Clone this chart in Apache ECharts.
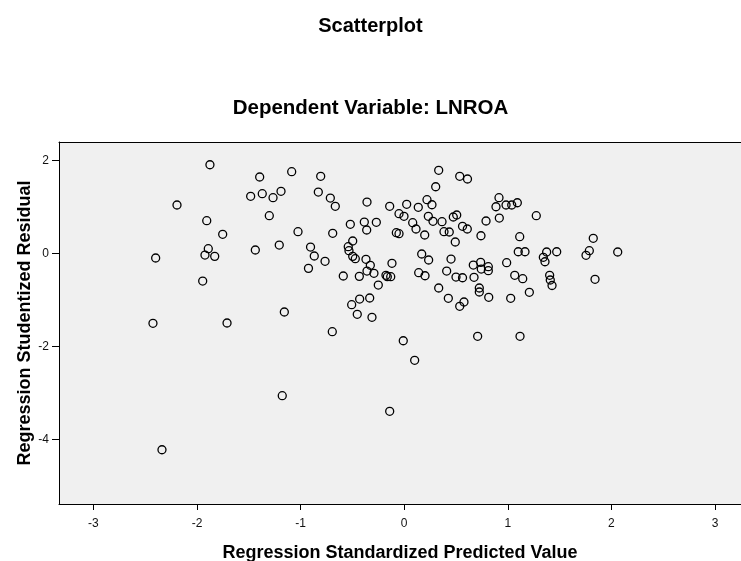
<!DOCTYPE html>
<html>
<head>
<meta charset="utf-8">
<script src="https://cdn.jsdelivr.net/npm/echarts@6/dist/echarts.min.js"></script>
<style>
  html, body { margin: 0; padding: 0; background: #ffffff; }
  #chart { width: 741px; height: 561px; }
</style>
</head>
<body>
<div id="chart"></div>
<script>
// Regression Standardized Predicted Value (x) for each case
const predicted = [
  -1.875, -1.395, -1.086, -2.193, -1.482, -1.370, -1.266, -1.189, -1.906, -1.302,
  -1.752, -1.025, -2.399, -1.891, -1.923, -1.829, -1.437, -1.206, -1.945, -0.904,
  -0.924, -0.806, 0.333, 0.536, 0.611, -0.829, -0.713, -0.665, -0.359, 0.304,
  -0.140, 0.024, 0.136, 0.220, 0.268, -0.050, -0.002, 0.233, 0.278, 0.365,
  0.474, 0.507, -0.520, -0.385, -0.269, -0.362, 0.082, 0.114, 0.198, -0.076,
  -0.050, 0.384, 0.435, 0.563, 0.609, 0.493, -0.690, -0.868, -0.764, -0.497,
  -0.540, -0.533, -0.497, -0.472, -0.369, -0.327, -0.359, -0.292, -0.118, -0.588,
  -0.433, -0.176, -0.163, -0.130, -0.250, 0.169, 0.236, 0.452, 0.140, 0.201,
  0.410, 0.500, 0.563, 0.333, 0.915, 0.886, 0.983, 1.038, 1.092, 1.275,
  0.790, 0.918, 0.741, 1.115, 1.825, 1.101, 1.166, 1.375, 1.472, 1.343,
  1.359, 1.787, 1.755, 2.061, 0.989, 0.667, 0.738, 0.812, 0.812, 0.744,
  0.674, 1.067, 1.144, 1.404, 1.410, 1.427, 1.842, 0.725, 0.725, 0.816,
  1.028, 1.208, 0.709, 1.118, -0.430, -0.333, -0.507, -0.453, -0.311, -0.694,
  0.426, 0.577, 0.536, -0.009, 0.101, -0.140, -1.157, -2.425, -1.710, -1.177,
  -2.338
];
// Regression Studentized Residual (y) for each case
const residual = [
  1.905, 1.641, 1.755, 1.039, 1.226, 1.282, 1.196, 1.333, 0.701, 0.809,
  0.409, 0.465, -0.101, 0.099, -0.037, -0.065, 0.071, 0.178, -0.596, 0.135,
  -0.323, 1.656, 1.785, 1.656, 1.598, 1.318, 1.189, 1.011, 1.103, 1.432,
  1.011, 1.054, 0.989, 1.153, 1.045, 0.852, 0.796, 0.796, 0.688, 0.680,
  0.781, 0.824, 0.624, 0.673, 0.667, 0.501, 0.658, 0.523, 0.394, 0.443,
  0.422, 0.465, 0.458, 0.581, 0.523, 0.243, 0.430, -0.058, -0.172, 0.265,
  0.142, 0.056, -0.065, -0.116, -0.129, -0.258, -0.381, -0.430, -0.215, -0.488,
  -0.495, -0.473, -0.503, -0.503, -0.682, -0.015, -0.144, -0.123, -0.417, -0.482,
  -0.381, -0.510, -0.525, -0.746, 1.196, 1.002, 1.039, 1.039, 1.088, 0.809,
  0.695, 0.759, 0.378, 0.357, 0.323, 0.034, 0.034, 0.028, 0.034, -0.086,
  -0.181, 0.056, -0.043, 0.028, -0.202, -0.252, -0.194, -0.288, -0.374, -0.338,
  -0.516, -0.473, -0.546, -0.473, -0.574, -0.692, -0.559, -0.746, -0.832, -0.946,
  -0.968, -0.839, -1.785, -1.785, -0.983, -0.961, -1.105, -1.312, -1.376, -1.686,
  -0.968, -1.047, -1.140, -1.880, -2.301, -3.398, -1.262, -1.505, -1.499, -3.062,
  -4.224
];
const xTicks = [-3, -2, -1, 0, 1, 2, 3];
const yTicks = [-4, -2, 0, 2];

const points = predicted.map((v, i) => [v, residual[i]]);

const chart = echarts.init(document.getElementById('chart'), null, { renderer: 'canvas' });
const FONT = '"Liberation Sans", Arial, sans-serif';
const X_MIN = -3.332, X_MAX = 3.251;
chart.setOption({
  animation: false,
  backgroundColor: '#ffffff',
  title: [
    { text: 'Scatterplot', left: 'center', top: 11,
      textStyle: { fontFamily: FONT, fontSize: 20, fontWeight: 'bold', color: '#000' } },
    { text: 'Dependent Variable: LNROA', left: 'center', top: 93,
      textStyle: { fontFamily: FONT, fontSize: 20.5, fontWeight: 'bold', color: '#000' } }
  ],
  grid: {
    left: 59, top: 142, right: 0, bottom: 57,
    show: true, backgroundColor: '#f0f0f0', borderWidth: 0,
    containLabel: false,
    outerBoundsMode: 'none'
  },
  xAxis: [{
    type: 'value', min: X_MIN, max: X_MAX, position: 'bottom',
    name: 'Regression Standardized Predicted Value',
    nameLocation: 'middle', nameGap: 40, nameMoveOverlap: false,
    nameTextStyle: { fontFamily: FONT, fontSize: 18, fontWeight: 'bold', color: '#000' },
    axisLine: { show: true, onZero: false, lineStyle: { color: '#000', width: 1 } },
    axisTick: { show: true, inside: false, length: 6, customValues: xTicks, lineStyle: { color: '#000', width: 1 } },
    axisLabel: { show: true, customValues: xTicks, margin: 14, fontFamily: FONT, fontSize: 12, color: '#111' },
    splitLine: { show: false }
  }, {
    type: 'value', min: X_MIN, max: X_MAX, position: 'top',
    axisLine: { show: true, onZero: false, lineStyle: { color: '#000', width: 1 } },
    axisTick: { show: false }, axisLabel: { show: false }, splitLine: { show: false }
  }],
  yAxis: {
    type: 'value', min: -5.391, max: 2.394,
    name: 'Regression Studentized Residual',
    nameLocation: 'middle', nameGap: 25, nameMoveOverlap: false,
    nameTextStyle: { fontFamily: FONT, fontSize: 18, fontWeight: 'bold', color: '#000' },
    axisLine: { show: true, onZero: false, lineStyle: { color: '#000', width: 1 } },
    axisTick: { show: true, inside: false, length: 7, customValues: yTicks, lineStyle: { color: '#000', width: 1 } },
    axisLabel: { show: true, customValues: yTicks, margin: 10, fontFamily: FONT, fontSize: 12, color: '#111' },
    splitLine: { show: false }
  },
  series: [{
    type: 'scatter',
    xAxisIndex: 0,
    data: points,
    symbol: 'circle',
    symbolSize: 8,
    itemStyle: { color: 'rgba(0,0,0,0)', borderColor: '#000', borderWidth: 1.3, opacity: 1 },
    emphasis: { disabled: true }
  }]
});
</script>
</body>
</html>
